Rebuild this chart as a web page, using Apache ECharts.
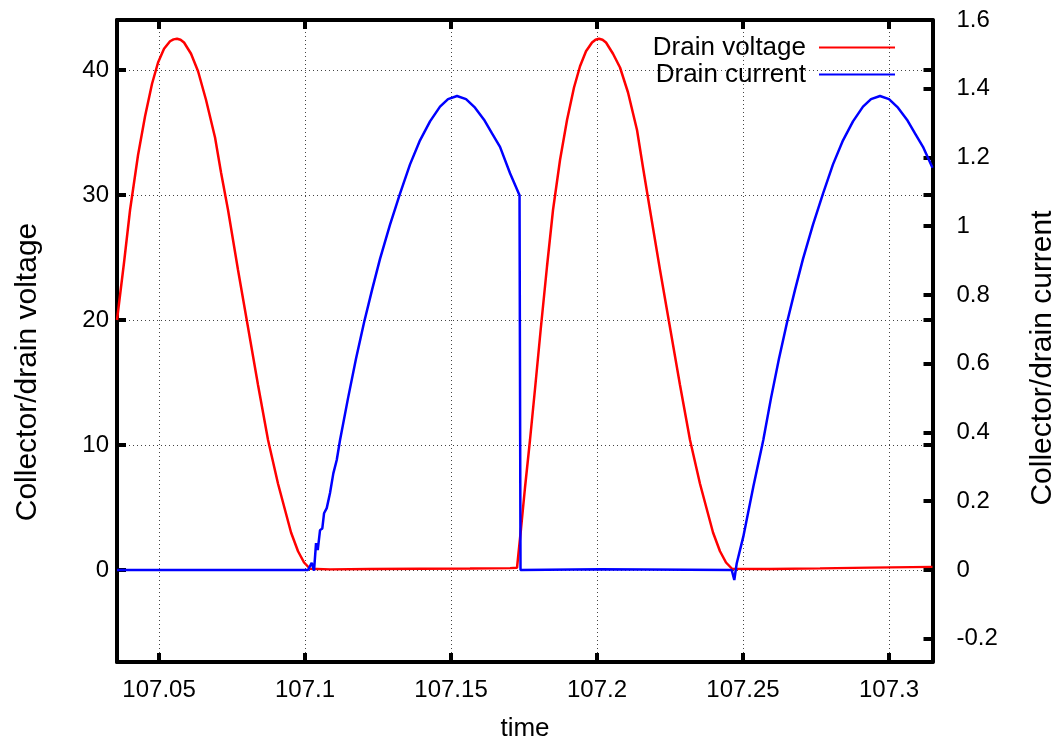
<!DOCTYPE html>
<html>
<head>
<meta charset="utf-8">
<title>Drain voltage / current</title>
<script src="https://cdn.jsdelivr.net/npm/echarts@6/dist/echarts.min.js"></script>
<style>
  html, body { margin: 0; padding: 0; background: #fff; }
  #chart { width: 1058px; height: 740px; }
</style>
</head>
<body>
<div id="chart"></div>
<script>
// drain voltage samples (time, volts)
const voltageTime = [
  107.0356, 107.03801, 107.04007, 107.04281, 107.04521, 107.0476, 107.04966, 107.05171,
  107.05377, 107.05496, 107.05616, 107.05736, 107.05856, 107.06096, 107.06336, 107.0661, 107.06918, 107.07123,
  107.07363, 107.07705, 107.08048, 107.0839, 107.08733, 107.09075, 107.09315, 107.09521,
  107.0976, 107.09966, 107.10171, 107.10856, 107.12226, 107.13938, 107.15651, 107.17021,
  107.1726, 107.17397, 107.17534, 107.17705, 107.17877, 107.18082, 107.18288, 107.18493,
  107.18733, 107.18973, 107.19212, 107.19418, 107.19623, 107.19829, 107.19949, 107.20069, 107.20189, 107.20308,
  107.20548, 107.20788, 107.21062, 107.2137, 107.21575, 107.21815, 107.22158, 107.225,
  107.22842, 107.23185, 107.23527, 107.23767, 107.23973, 107.24212, 107.24418, 107.24623,
  107.25925, 107.27637, 107.29349, 107.3149
]
const voltage = [
  20.0, 24.6, 28.8, 33.2, 36.3, 38.9, 40.6, 41.7,
  42.3, 42.45, 42.5, 42.42, 42.2, 41.3, 39.9, 37.6, 34.6, 31.8,
  28.8, 24.0, 19.4, 14.8, 10.4, 6.9, 4.8, 3.0,
  1.5, 0.6, 0.1, 0.05, 0.08, 0.1, 0.12, 0.15,
  0.18, 3.3, 6.6, 10.4, 14.5, 19.5, 24.3, 28.8,
  32.8, 36.0, 38.6, 40.3, 41.5, 42.2, 42.42, 42.5, 42.42, 42.2,
  41.3, 40.2, 38.2, 35.2, 32.2, 28.8, 24.0, 19.4,
  14.8, 10.4, 6.9, 4.8, 3.0, 1.5, 0.6, 0.1,
  0.08, 0.13, 0.19, 0.25
]

// drain current samples (time, amps)
const currentTime = [
  107.0356, 107.10103, 107.10229, 107.10308, 107.10377, 107.10435, 107.10514, 107.10592,
  107.10651, 107.10743, 107.10856, 107.10969, 107.11086, 107.11199, 107.11473, 107.11747,
  107.12021, 107.12295, 107.12568, 107.12911, 107.13253, 107.13596, 107.13938, 107.14281,
  107.14623, 107.14897, 107.15205, 107.15514, 107.15822, 107.1613, 107.16404, 107.16678,
  107.17021, 107.17346, 107.1738, 107.20103, 107.24613, 107.24702, 107.24784, 107.2501,
  107.25353, 107.25695, 107.25959, 107.26233, 107.26507, 107.26781, 107.27055, 107.27397,
  107.2774, 107.28082, 107.28425, 107.28767, 107.2911, 107.29384, 107.29692, 107.3,
  107.30308, 107.30616, 107.3089, 107.31164, 107.3149
]
const current = [
  0, 0, 0.021, -0.002, 0.078, 0.058, 0.116, 0.121,
  0.165, 0.18, 0.224, 0.281, 0.32, 0.378, 0.5, 0.615,
  0.72, 0.815, 0.905, 1.005, 1.095, 1.18, 1.25, 1.305,
  1.348, 1.37, 1.379, 1.37, 1.345, 1.31, 1.27, 1.231,
  1.154, 1.09, 0, 0.002, 0, -0.029, 0.019, 0.097,
  0.242, 0.378, 0.5, 0.615, 0.72, 0.815, 0.905, 1.005,
  1.095, 1.18, 1.25, 1.305, 1.348, 1.37, 1.379, 1.37,
  1.345, 1.31, 1.27, 1.231, 1.17
]

const timeTicks = [107.05, 107.1, 107.15, 107.2, 107.25, 107.3]
const voltageTicks = [0, 10, 20, 30, 40]
const currentTicks = [-0.2, 0, 0.2, 0.4, 0.6, 0.8, 1, 1.2, 1.4, 1.6]

const FONT = 'Liberation Sans, Arial, Helvetica, sans-serif'
const FS = 24
const FS_BIG = 26
const FS_TITLE = 30
const fmt = v => String(parseFloat(v.toFixed(4)))

const chart = echarts.init(document.getElementById('chart'))

const frame = { show: true, onZero: false, lineStyle: { color: '#000', width: 4 } }
const tick = { show: true, inside: true, length: 9, lineStyle: { color: '#000', width: 4 } }
const dotted = { show: true, lineStyle: { color: '#444', width: 1, type: [1, 3] } }

chart.setOption({
  animation: false,
  backgroundColor: '#fff',
  textStyle: { fontFamily: FONT },
  grid: { left: 117, right: 125.5, top: 20, bottom: 78, containLabel: false },
  legend: {
    orient: 'vertical',
    right: 158,
    top: 29,
    align: 'right',
    itemGap: 0,
    itemWidth: 76,
    itemHeight: 2,
    icon: 'rect',
    textStyle: { fontSize: FS_BIG, lineHeight: 27, color: '#000', fontFamily: FONT, padding: [0, 8, 0, 0] },
    data: ['Drain voltage', 'Drain current']
  },
  xAxis: [
    {
      type: 'value', position: 'bottom',
      min: 107.0356, max: 107.3149,
      axisLine: frame,
      axisTick: Object.assign({ customValues: timeTicks }, tick),
      axisLabel: { customValues: timeTicks, formatter: fmt, fontSize: FS, color: '#000', margin: 16 },
      splitLine: dotted
    },
    {
      type: 'value', position: 'top',
      min: 107.0356, max: 107.3149,
      axisLine: frame,
      axisTick: Object.assign({ customValues: timeTicks }, tick),
      axisLabel: { show: false },
      splitLine: { show: false }
    }
  ],
  yAxis: [
    {
      type: 'value', position: 'left',
      min: -7.36, max: 44,
      axisLine: frame,
      axisTick: Object.assign({ customValues: voltageTicks }, tick),
      axisLabel: { customValues: voltageTicks, formatter: fmt, fontSize: FS, color: '#000', margin: 8 },
      splitLine: dotted
    },
    {
      type: 'value', position: 'right',
      min: -0.26764, max: 1.6,
      axisLine: frame,
      axisTick: Object.assign({ customValues: currentTicks }, tick),
      axisLabel: { customValues: currentTicks, formatter: fmt, fontSize: FS, color: '#000', margin: 24 },
      splitLine: { show: false }
    },
    {
      // mirrored voltage ticks on the right border
      type: 'value', position: 'right',
      min: -7.36, max: 44,
      axisLine: { show: false },
      axisTick: Object.assign({ customValues: voltageTicks }, tick),
      axisLabel: { show: false },
      splitLine: { show: false }
    }
  ],
  graphic: [
    { type: 'text', x: 525, y: 729,
      style: { text: 'time', font: FS_BIG + 'px ' + FONT, fill: '#000', align: 'center', verticalAlign: 'middle' } },
    { type: 'text', x: 28, y: 372, rotation: Math.PI / 2,
      style: { text: 'Collector/drain voltage', font: FS_TITLE + 'px ' + FONT, fill: '#000', align: 'center', verticalAlign: 'middle' } },
    { type: 'text', x: 1043, y: 358, rotation: Math.PI / 2,
      style: { text: 'Collector/drain current', font: FS_TITLE + 'px ' + FONT, fill: '#000', align: 'center', verticalAlign: 'middle' } }
  ],
  series: [
    {
      name: 'Drain voltage', type: 'line', xAxisIndex: 0, yAxisIndex: 0,
      showSymbol: false, color: '#ff0000',
      lineStyle: { width: 2.5, color: '#ff0000' },
      data: voltageTime.map((t, i) => [t, voltage[i]])
    },
    {
      name: 'Drain current', type: 'line', xAxisIndex: 0, yAxisIndex: 1,
      showSymbol: false, color: '#0000ff',
      lineStyle: { width: 2.5, color: '#0000ff' },
      data: currentTime.map((t, i) => [t, current[i]])
    }
  ]
})
</script>
</body>
</html>
